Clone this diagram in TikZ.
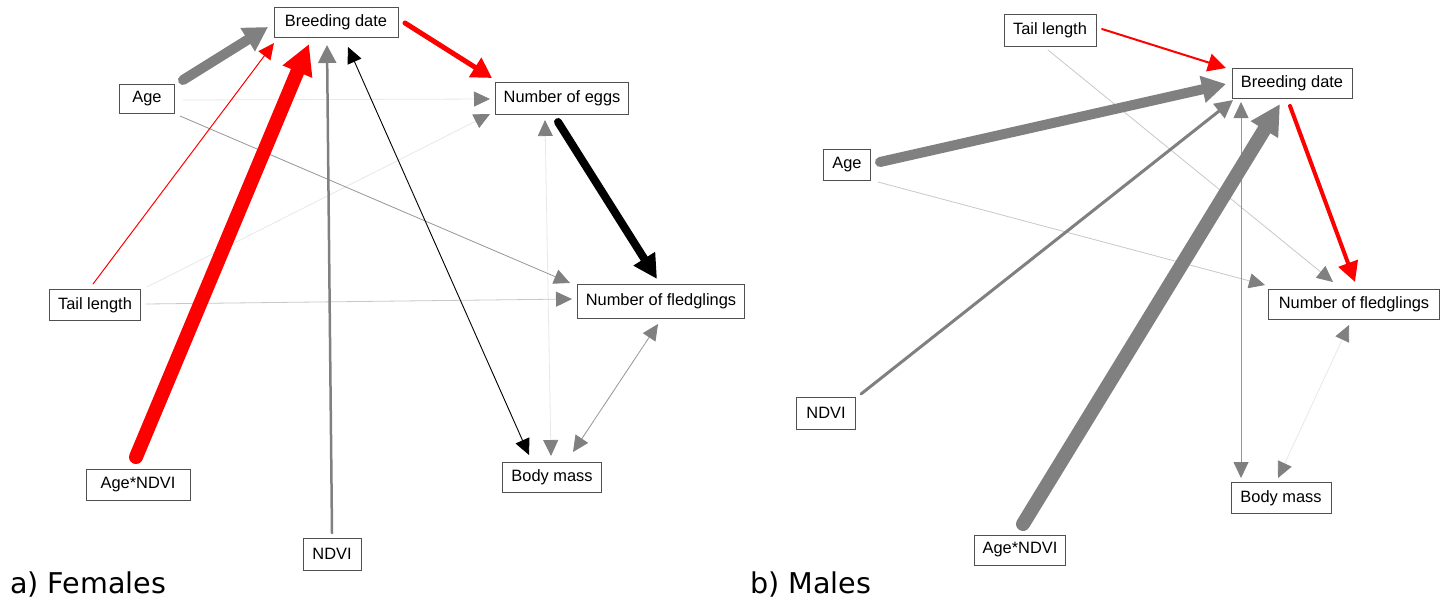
\documentclass[tikz,border=0pt]{standalone}
\usepackage{fontspec}
\setmainfont{Liberation Sans}
\newfontfamily\labfont{DejaVu Sans}
\usetikzlibrary{arrows.meta}
\definecolor{mgray}{RGB}{128,128,128}
\definecolor{tgray}{RGB}{150,150,150}
\definecolor{lgray}{RGB}{200,200,200}
\definecolor{vlgray}{RGB}{232,232,232}
\definecolor{boxline}{RGB}{80,80,80}
\definecolor{pred}{RGB}{255,0,0}
\begin{document}
\begin{tikzpicture}[x=1pt,y=-1pt,
  box/.style={draw=boxline, line width=0.8pt, fill=white, inner sep=0pt,
    font=\fontsize{16.4}{18}\selectfont},
  edge/.style={line cap=round},
  thinhead/.style={-{Triangle[length=16pt,width=15pt,color=mgray]}},
  panel/.style={font=\labfont\fontsize{28.6}{32}\selectfont, anchor=base west, inner sep=0pt}
]
\useasboundingbox (0,0) rectangle (1447,606);
\fill[white] (0,0) rectangle (1447,606);

% ---------------- a) Females ----------------
\node[box, minimum width=124pt, minimum height=30pt] (bdF) at (336,22) {Breeding date};
\node[box, minimum width=55pt, minimum height=29pt] (ageF) at (147,99) {Age};
\node[box, minimum width=133pt, minimum height=32pt] (eggsF) at (562,98) {Number of eggs};
\node[box, minimum width=91pt, minimum height=31pt] (tailF) at (95,305) {Tail length};
\node[box, minimum width=167pt, minimum height=34pt] (fledF) at (661,301) {Number of fledglings};
\node[box, minimum width=99pt, minimum height=30pt] (bodyF) at (552,477) {Body mass};
\node[box, minimum width=104pt, minimum height=31pt] (anF) at (138,485) {Age*NDVI};
\node[box, minimum width=58pt, minimum height=32pt] (ndviF) at (332,554) {NDVI};
\node[panel] (labF) at (10,593) {a) Females};

% faint edges first
\draw[edge, vlgray, line width=0.8pt, thinhead] ([shift={(36,1)}]ageF.center) -- ([shift={(-72,1)}]eggsF.center);
\draw[edge, vlgray, line width=0.8pt, thinhead] ([shift={(52,-18)}]tailF.center) -- ([shift={(-72,16)}]eggsF.center);
\draw[edge, vlgray, line width=0.8pt, {Triangle[length=16pt,width=15pt,color=mgray]}-{Triangle[length=16pt,width=15pt,color=mgray]}] ([shift={(-17,22)}]eggsF.center) -- ([shift={(-1,-21)}]bodyF.center);
\draw[edge, lgray, line width=0.8pt, thinhead] ([shift={(51,-1)}]tailF.center) -- ([shift={(-89,-2)}]fledF.center);
\draw[edge, tgray, line width=0.8pt, thinhead] ([shift={(33,17)}]ageF.center) -- ([shift={(-91,-18)}]fledF.center);
\draw[edge, tgray, line width=0.8pt, {Triangle[length=16pt,width=15pt,color=mgray]}-{Triangle[length=16pt,width=15pt,color=mgray]}] ([shift={(21,-25)}]bodyF.center) -- ([shift={(-3,23)}]fledF.center);
\draw[edge, black, line width=0.9pt, {Triangle[length=16pt,width=15pt]}-{Triangle[length=16pt,width=15pt]}] ([shift={(12,25)}]bdF.center) -- ([shift={(-23,-22)}]bodyF.center);
\draw[edge, pred, line width=1pt, -{Triangle[length=16pt,width=15pt]}] ([shift={(-2,-21)}]tailF.center) -- ([shift={(-62,21)}]bdF.center);
\draw[edge, mgray, line width=2.5pt, -{Triangle[length=18pt,width=18pt]}] ([shift={(0,-21)}]ndviF.center) -- ([shift={(-9,23)}]bdF.center);
\draw[edge, pred, line width=14pt, -{Triangle[length=30pt,width=30pt]}] ([shift={(-2,-28)}]anF.center) -- ([shift={(-27,22)}]bdF.center);
\draw[edge, mgray, line width=10pt, -{Triangle[length=24pt,width=26pt]}] ([shift={(36,-19)}]ageF.center) -- ([shift={(-68,5)}]bdF.center);
\draw[edge, pred, line width=5pt, -{Triangle[length=20pt,width=22pt]}] ([shift={(69,1)}]bdF.center) -- ([shift={(-70,-20)}]eggsF.center);
\draw[edge, black, line width=8pt, -{Triangle[length=24pt,width=24pt]}] ([shift={(-4,24)}]eggsF.center) -- ([shift={(-4,-22)}]fledF.center);

% ---------------- b) Males ----------------
\node[box, minimum width=92pt, minimum height=32pt] (tailM) at (1050,30) {Tail length};
\node[box, minimum width=120pt, minimum height=30pt] (bdM) at (1292,83) {Breeding date};
\node[box, minimum width=47pt, minimum height=31pt] (ageM) at (847,165) {Age};
\node[box, minimum width=171pt, minimum height=30pt] (fledM) at (1354,304) {Number of fledglings};
\node[box, minimum width=59pt, minimum height=32pt] (ndviM) at (826,413) {NDVI};
\node[box, minimum width=100pt, minimum height=31pt] (bodyM) at (1281,498) {Body mass};
\node[box, minimum width=91pt, minimum height=30pt] (anM) at (1020,550) {Age*NDVI};
\node[panel] (labM) at (750,593) {b) Males};

\draw[edge, vlgray, line width=0.8pt, {Triangle[length=16pt,width=15pt,color=mgray]}-{Triangle[length=16pt,width=15pt,color=mgray]}] ([shift={(-3,-20)}]bodyM.center) -- ([shift={(-5,21)}]fledM.center);
\draw[edge, lgray, line width=0.8pt, thinhead] ([shift={(-2,20)}]tailM.center) -- ([shift={(-21,-22)}]fledM.center);
\draw[edge, lgray, line width=0.8pt, thinhead] ([shift={(31,17)}]ageM.center) -- ([shift={(-89,-19)}]fledM.center);
\draw[edge, tgray, line width=0.8pt, {Triangle[length=16pt,width=15pt,color=mgray]}-{Triangle[length=16pt,width=15pt,color=mgray]}] ([shift={(-51,19)}]bdM.center) -- ([shift={(-40,-20)}]bodyM.center);
\draw[edge, pred, line width=2pt, -{Triangle[length=18pt,width=18pt]}] ([shift={(52,-1)}]tailM.center) -- ([shift={(-66,-15)}]bdM.center);
\draw[edge, mgray, line width=3pt, -{Triangle[length=18pt,width=18pt]}] ([shift={(35,-19)}]ndviM.center) -- ([shift={(-59,17)}]bdM.center);
\draw[edge, mgray, line width=10pt, -{Triangle[length=24pt,width=26pt]}] ([shift={(33,-3)}]ageM.center) -- ([shift={(-66,1)}]bdM.center);
\draw[edge, mgray, line width=14pt, -{Triangle[length=30pt,width=30pt]}] ([shift={(3,-26)}]anM.center) -- ([shift={(-12,21)}]bdM.center);
\draw[edge, pred, line width=4pt, -{Triangle[length=20pt,width=20pt]}] ([shift={(-2,23)}]bdM.center) -- ([shift={(1,-22)}]fledM.center);
\end{tikzpicture}
\end{document}
